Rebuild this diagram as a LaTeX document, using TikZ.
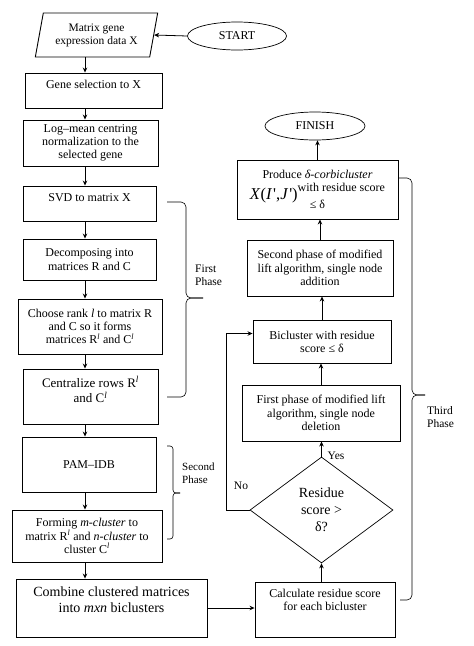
\documentclass[tikz,border=0pt]{standalone}
\usepackage{fontspec}
\setmainfont{Liberation Serif}
\usetikzlibrary{shapes.geometric,arrows.meta}
\tikzset{
    step-box/.style = {draw, line width=0.9pt, rectangle, align=center, inner sep=2pt, font=\fontsize{12}{13.2}\selectfont},
    big-text/.style = {font=\fontsize{14}{16}\selectfont},
    end-oval/.style = {draw, line width=0.7pt, ellipse, inner sep=0pt, minimum width=99pt, minimum height=28pt, font=\fontsize{12}{13.2}\selectfont},
    data-box/.style = {draw, line width=0.9pt, trapezium, trapezium left angle=75, trapezium right angle=105, trapezium stretches=true, align=center, inner sep=0pt, font=\fontsize{11.5}{13}\selectfont},
    test-box/.style = {draw, line width=0.7pt, diamond, inner sep=0pt, align=center, font=\fontsize{14}{17}\selectfont},
    flow-arrow/.style = {-{Stealth[length=5pt,width=4.5pt]}, line width=0.8pt},
    phase-brace/.style = {line width=0.6pt, rounded corners=5pt},
    phase-label/.style = {align=left, anchor=west, inner sep=0pt, font=\fontsize{11.5}{13.5}\selectfont},
}

\begin{document}
\begin{tikzpicture}[x=1pt, y=-1pt]
\useasboundingbox (0,0) rectangle (474,646);
% left column
\node [data-box, minimum width=123pt, minimum height=44pt] (data) at (96.5,35) {Matrix gene\\expression data X};
\node [end-oval] (start) at (237,36) {START};
\node [step-box, minimum width=137pt, minimum height=35pt] (gene) at (93.5,90.5) {Gene selection to X\\\mbox{}};
\node [step-box, minimum width=135pt, minimum height=46pt] (norm) at (90.5,143) {Log–mean centring\\normalization to the\\selected gene};
\node [step-box, minimum width=133pt, minimum height=35pt] (svd) at (89.5,203.5) {SVD to matrix X\\[-2pt]\mbox{}};
\node [step-box, minimum width=133pt, minimum height=41pt] (decomp) at (89.5,259.5) {Decomposing into\\matrices R and C};
\node [step-box, minimum width=144pt, minimum height=55pt] (rank) at (90,326.5) {Choose rank \textit{l} to matrix R\\and C so it forms\\matrices R\textsuperscript{\textit{l}} and C\textsuperscript{\textit{l}}};
\node [step-box, minimum width=135pt, minimum height=55pt, font=\fontsize{13}{15.6}\selectfont] (central) at (90.5,396.5) {Centralize rows R\textsuperscript{\textit{l}}\\and C\textsuperscript{\textit{l}}\\[-1.6pt]\mbox{}};
\node [step-box, minimum width=134pt, minimum height=55pt] (pam) at (89,464.5) {PAM–IDB};
\node [step-box, minimum width=150pt, minimum height=52pt] (forming) at (87,536) {Forming \textit{m-cluster} to\\matrix R\textsuperscript{\textit{l}} and \textit{n-cluster} to\\cluster C\textsuperscript{\textit{l}}};
\node [step-box, big-text, minimum width=191pt, minimum height=58pt] (combine) at (111.5,608) {Combine clustered matrices\\into \textit{mxn} biclusters\\\mbox{}};
\coordinate (left-spine) at (85,0);

% right column
\node [end-oval, minimum width=100pt] (finish) at (315,126) {FINISH};
\node [step-box, minimum width=161pt, minimum height=59pt] (produce) at (317.5,189.5) {Produce \textit{δ-corbicluster}\\[4pt]{\fontsize{16.5}{18}\selectfont\textit{X}(\textit{I}\kern1pt\textquotesingle,\textit{J}\kern1pt\textquotesingle)}\raisebox{8pt}{with residue score}\\[-4pt]≤ δ};
\node [step-box, minimum width=146pt, minimum height=56pt] (second) at (320,268) {Second phase of modified\\lift algorithm, single node\\addition};
\node [step-box, minimum width=138pt, minimum height=43pt] (bicl) at (322,341.5) {Bicluster with residue\\score ≤ δ};
\node [step-box, minimum width=158pt, minimum height=56pt] (first) at (321,413) {First phase of modified lift\\algorithm, single node\\deletion};
\node [test-box, minimum width=143pt, minimum height=106pt] (check) at (321.5,510) {Residue\\score >\\δ?};
\node [step-box, minimum width=140pt, minimum height=55pt] (calc) at (325,609.5) {Calculate residue score\\for each bicluster\\[6pt]\mbox{}};
\node [font=\fontsize{11.5}{13}\selectfont, inner sep=0pt] (yes) at (336,456) {Yes};
\node [font=\fontsize{11.5}{13}\selectfont, inner sep=0pt] (no) at (241,486) {No};
\coordinate (no-turn) at (226,510);

% arrows
\draw [flow-arrow] (start.west) -- (data.east);
\draw [flow-arrow] (data.south -| left-spine) -- (gene.north -| left-spine);
\draw [flow-arrow] (gene.south -| left-spine) -- (norm.north -| left-spine);
\draw [flow-arrow] (norm.south -| left-spine) -- (svd.north -| left-spine);
\draw [flow-arrow] (svd.south -| left-spine) -- (decomp.north -| left-spine);
\draw [flow-arrow] (decomp.south -| left-spine) -- (rank.north -| left-spine);
\draw [flow-arrow] (rank.south -| left-spine) -- (central.north -| left-spine);
\draw [flow-arrow] (central.south -| left-spine) -- (pam.north -| left-spine);
\draw [flow-arrow] (pam.south -| left-spine) -- (forming.north -| left-spine);
\draw [flow-arrow] (forming.south -| left-spine) -- (combine.north -| left-spine);
\draw [flow-arrow] (combine.east) -- (combine.east -| calc.west);
\draw [flow-arrow] (check.south |- calc.north) -- (check.south);
\draw [flow-arrow] (check.north) -- (check.north |- first.south);
\draw [flow-arrow] (first.north) -- (first.north |- bicl.south);
\draw [flow-arrow] (bicl.north) -- (bicl.north |- second.south);
\draw [flow-arrow] (second.north) -- (second.north |- produce.south);
\draw [flow-arrow] (produce.north) -- (produce.north |- finish.south);
\draw [flow-arrow] (check.west) -- (no-turn) |- ([yshift=8pt]bicl.west);

% phase braces
\draw [phase-brace] (167,202) -- (186,202) -- (186,298) -- (203,298);
\draw [phase-brace] (167,397) -- (186,397) -- (186,298) -- (203,298);
\node [phase-label] (first-phase) at (195,275) {First\\Phase};
\draw [phase-brace, rounded corners=3pt] (167,446) -- (173,446) -- (173,493) -- (180,493);
\draw [phase-brace, rounded corners=3pt] (167,539) -- (173,539) -- (173,493) -- (180,493);
\node [phase-label, font=\fontsize{11}{12.5}\selectfont] (second-phase) at (182,473) {Second\\Phase};
\draw [phase-brace] (398,178) -- (412,178) -- (412,395) -- (425,395);
\draw [phase-brace] (400,600) -- (412,600) -- (412,395) -- (425,395);
\node [phase-label] (third-phase) at (427,417) {Third\\Phase};
\end{tikzpicture}
\end{document}
